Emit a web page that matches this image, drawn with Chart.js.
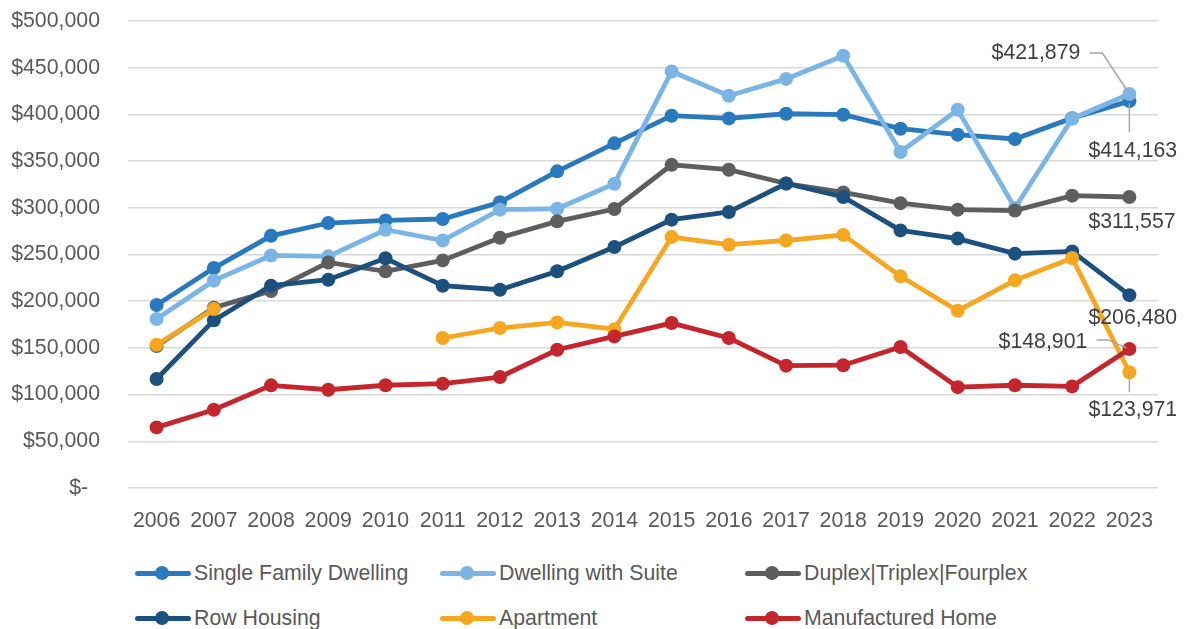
<!DOCTYPE html>
<html>
<head>
<meta charset="utf-8">
<title>Average Assessed Value by Property Type</title>
<script src="https://cdn.jsdelivr.net/npm/chart.js@4.4.1/dist/chart.umd.min.js"></script>
<style>
  html, body { margin: 0; padding: 0; background: #fff; }
  #wrap { position: relative; width: 1187px; height: 629px; font-family: "Liberation Sans", Arial, sans-serif; }
  #chart { position: absolute; left: 0; top: 0; }
  .legend-item { position: absolute; display: flex; align-items: center; height: 30px; color: #595959; font-size: 21.3px; white-space: nowrap; }
  .legend-swatch { position: relative; width: 56px; height: 30px; margin-right: 3px; }
  .legend-swatch .bar { position: absolute; left: 0; right: 0; top: 12.5px; height: 5px; border-radius: 3px; }
  .legend-swatch .dot { position: absolute; left: 20px; top: 8px; width: 14px; height: 14px; border-radius: 50%; }
</style>
</head>
<body>
<div id="wrap">
  <canvas id="chart" width="1187" height="545"></canvas>
  <div id="legend"></div>
</div>
<script>
// Years on the x axis
const years = ['2006', '2007', '2008', '2009', '2010', '2011', '2012', '2013', '2014',
               '2015', '2016', '2017', '2018', '2019', '2020', '2021', '2022', '2023'];

// Average value per property type ($)
const singleFamily = [196000, 235500, 270000, 283700, 286500, 288000, 306000, 339000, 369000,
                      398600, 395700, 400700, 399700, 384700, 378300, 373700, 396000, 414163];
const withSuite    = [181000, 222000, 249000, 248000, 276500, 265000, 298000, 299000, 325800,
                      446000, 420000, 438000, 462800, 359700, 405000, 299800, 395400, 421879];
const multiplex    = [152000, 193000, 211000, 241500, 232000, 243700, 268000, 285500, 298700,
                      346000, 340800, 326000, 316500, 305000, 298000, 297000, 313000, 311557];
const rowHousing   = [116700, 179500, 216600, 223000, 246000, 216600, 212300, 232000, 258000,
                      287300, 295500, 326000, 311600, 275800, 267000, 250900, 253300, 206480];
const apartment    = [153400, 191600, null, null, null, 160600, 171300, 177300, 170000,
                      268700, 260500, 265000, 271000, 226600, 189800, 222300, 246300, 123971];
const manufactured = [64900, 83800, 109900, 105200, 110000, 111700, 118800, 148000, 162300,
                      176600, 160600, 131000, 131500, 151000, 108000, 110000, 108800, 148901];

const seriesNames  = ['Single Family Dwelling', 'Dwelling with Suite', 'Duplex|Triplex|Fourplex',
                      'Row Housing', 'Apartment', 'Manufactured Home'];
const seriesValues = [singleFamily, withSuite, multiplex, rowHousing, apartment, manufactured];
const seriesColors = ['#2979BE', '#7AB5E6', '#5E5E5E', '#1B507F', '#F5A71F', '#C4262E'];

// 2023 labels: offset from the point, text alignment, optional leader line (relative points)
const endLabels = [
  { dx: -41, dy: 50, align: 'left', leader: [[0, 2], [0, 31]] },
  { dx: -49, dy: -41, align: 'right', leader: [[-40, -41], [-27, -41], [-2, -3]] },
  { dx: -41, dy: 25, align: 'left', leader: null },
  { dx: -41, dy: 23, align: 'left', leader: null },
  { dx: -41, dy: 38, align: 'left', leader: [[0, 2], [0, 20]] },
  { dx: -42, dy: -7, align: 'right', leader: [[-33, -9], [-21, -9], [-3, -1]] }
];

const FONT = '"Liberation Sans", Arial, sans-serif';
const fmtMoney = v => '$' + Math.round(v).toLocaleString('en-US');

const datasets = seriesNames.map((name, i) => ({
  label: name,
  data: seriesValues[i],
  borderColor: seriesColors[i],
  backgroundColor: seriesColors[i],
  pointBackgroundColor: seriesColors[i],
  pointBorderColor: seriesColors[i],
  borderWidth: 4.8,
  pointRadius: 7,
  pointBorderWidth: 0,
  tension: 0,
  spanGaps: false,
  order: seriesNames.length - i   // later series sit on top
}));

// Draw value labels next to the last point of each line
const endLabelPlugin = {
  id: 'endLabels',
  afterDatasetsDraw(chart) {
    const ctx = chart.ctx;
    ctx.save();
    ctx.font = '21.3px ' + FONT;
    ctx.textBaseline = 'middle';
    chart.data.datasets.forEach((ds, i) => {
      const meta = chart.getDatasetMeta(i);
      const last = ds.data.length - 1;
      const pt = meta.data[last];
      const cfg = endLabels[i];
      if (!pt || !cfg) return;
      if (cfg.leader) {
        ctx.strokeStyle = '#A6A6A6';
        ctx.lineWidth = 1.5;
        ctx.beginPath();
        cfg.leader.forEach(([lx, ly], k) => {
          if (k === 0) ctx.moveTo(pt.x + lx, pt.y + ly);
          else ctx.lineTo(pt.x + lx, pt.y + ly);
        });
        ctx.stroke();
      }
      ctx.fillStyle = '#404040';
      ctx.textAlign = cfg.align;
      ctx.fillText(fmtMoney(ds.data[last]), pt.x + cfg.dx, pt.y + cfg.dy);
    });
    ctx.restore();
  }
};

const chart = new Chart(document.getElementById('chart'), {
  type: 'line',
  data: { labels: years, datasets: datasets },
  options: {
    responsive: false,
    animation: false,
    layout: { padding: { top: 21, right: 29, left: 0, bottom: 0 } },
    plugins: {
      legend: { display: false },
      tooltip: { enabled: false }
    },
    scales: {
      x: {
        offset: true,
        grid: { display: false, drawTicks: false },
        border: { display: false },
        ticks: { color: '#595959', font: { family: FONT, size: 21.3 }, padding: 20, maxRotation: 0 },
        afterFit: s => { s.height = 57; }
      },
      y: {
        min: 0,
        max: 500000,
        grid: { color: '#D9D9D9', lineWidth: 1.5, drawTicks: false },
        border: { display: false },
        ticks: {
          stepSize: 50000,
          color: '#595959',
          font: { family: FONT, size: 21.3 },
          padding: 28,
          callback: v => (v === 0 ? '$-  ' : fmtMoney(v))
        },
        afterFit: s => {
          s.width = 128;
          // tick padding is horizontal here; don't let it push the plot down
          s.paddingTop = 0;
          s.paddingBottom = 0;
        }
      }
    }
  },
  plugins: [endLabelPlugin]
});

// Legend laid out in three columns below the chart
const legendCols = [135, 440, 745];
const legendRows = [558, 603];
const legendEl = document.getElementById('legend');
chart.data.datasets.forEach((ds, i) => {
  const item = document.createElement('div');
  item.className = 'legend-item';
  item.style.left = legendCols[i % 3] + 'px';
  item.style.top = legendRows[Math.floor(i / 3)] + 'px';
  item.innerHTML =
    '<div class="legend-swatch"><div class="bar" style="background:' + ds.borderColor + '"></div>' +
    '<div class="dot" style="background:' + ds.borderColor + '"></div></div>' +
    '<span>' + ds.label + '</span>';
  legendEl.appendChild(item);
});
</script>
</body>
</html>
